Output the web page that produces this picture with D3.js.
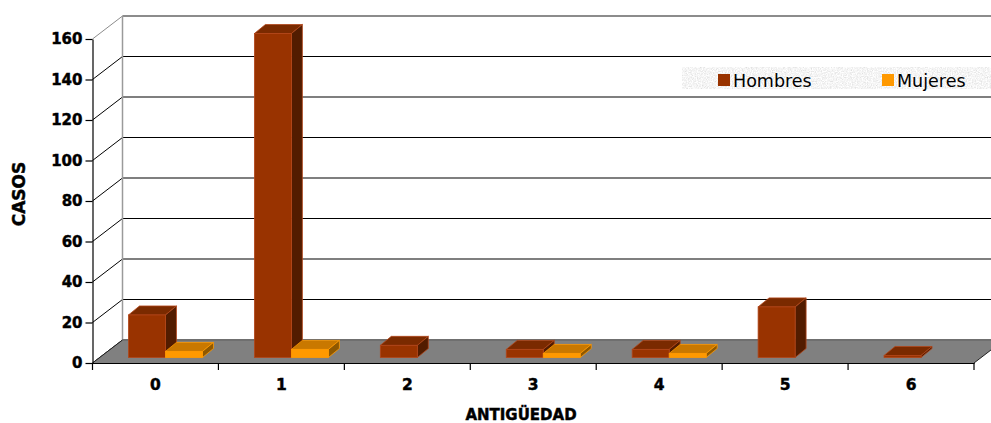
<!DOCTYPE html>
<html>
<head>
<meta charset="utf-8">
<script src="https://cdn.jsdelivr.net/npm/d3@7/dist/d3.min.js"></script>
<style>
  html, body { margin: 0; padding: 0; background: #ffffff; }
  svg { display: block; }
</style>
</head>
<body>
<div id="chart"></div>
<script>
// Casos por antigüedad, hombres y mujeres
const categories = ["0", "1", "2", "3", "4", "5", "6"];
const seriesNames = ["Hombres", "Mujeres"];
const hombres = [21, 160, 6, 4, 4, 25, 1];
const mujeres = [3, 4, 0, 2, 2, 0, 0];
const yTicks = [0, 20, 40, 60, 80, 100, 120, 140, 160];

const W = 991, H = 423;
const svg = d3.select("#chart").append("svg")
  .attr("width", W).attr("height", H);

// plot geometry (oblique 3D box)
const xLeft = 92.5, xRight = 974;
const wallDX = 30, wallDY = -23;           // depth of the box
const barDX = 11, barDY = -9;              // depth of each bar
const barShiftX = 10, barShiftY = -5.5;    // bars sit a little inside the floor
const barWidth = 37;

const x = d3.scaleBand().domain(categories).range([xLeft, xRight]).paddingInner(0).paddingOuter(0);
const xs = d3.scaleBand().domain(seriesNames).range([-barWidth, barWidth]);
const y = d3.scaleLinear().domain([0, 160]).range([363, 39]);

const colors = {
  Hombres: { front: "#993300", top: "#7a2a00", side: "#521c00", stroke: "#b2461a" },
  Mujeres: { front: "#ff9900", top: "#c97800", side: "#8f5800", stroke: "#ff9900" }
};

const boldFont = "'DejaVu Sans', sans-serif";
const heavy = sel => sel
  .attr("font-family", boldFont).attr("font-weight", "bold")
  .attr("fill", "#000").attr("stroke", "#000").attr("stroke-width", 0.45);

// texture used behind the legend
const defs = svg.append("defs");
const f = defs.append("filter").attr("id", "granite")
  .attr("x", 0).attr("y", 0).attr("width", 1).attr("height", 1);
f.append("feTurbulence").attr("type", "fractalNoise")
  .attr("baseFrequency", 0.8).attr("numOctaves", 2).attr("seed", 4).attr("result", "noise");
f.append("feColorMatrix").attr("in", "noise").attr("type", "matrix")
  .attr("values", "0.5 0 0 0 0.66  0.5 0 0 0 0.66  0.5 0 0 0 0.66  0 0 0 0 1")
  .attr("result", "gray");
f.append("feComposite").attr("in", "gray").attr("in2", "SourceGraphic").attr("operator", "in");

// back wall
const backLeft = xLeft + wallDX;
svg.append("rect")
  .attr("x", backLeft).attr("y", y(160) + wallDY)
  .attr("width", W - backLeft + 20).attr("height", y(0) - y(160))
  .attr("fill", "#ffffff");

// gridlines on the back wall and the side wall
yTicks.forEach(v => {
  const top = v === 160;
  const col = top ? "#8c8c8c" : "#000000";
  svg.append("line")
    .attr("x1", backLeft).attr("x2", W + 20)
    .attr("y1", y(v) + wallDY).attr("y2", y(v) + wallDY)
    .attr("stroke", col).attr("stroke-width", top ? 2 : 1.2);
  svg.append("line")
    .attr("x1", xLeft).attr("y1", y(v))
    .attr("x2", backLeft).attr("y2", y(v) + wallDY)
    .attr("stroke", col).attr("stroke-width", 1);
});
svg.append("line")
  .attr("x1", backLeft).attr("x2", backLeft)
  .attr("y1", y(160) + wallDY).attr("y2", y(0) + wallDY)
  .attr("stroke", "#9a9a9a").attr("stroke-width", 1.5);

// floor
svg.append("polygon")
  .attr("points", [
    [xLeft, y(0)], [xRight, y(0)],
    [xRight + wallDX, y(0) + wallDY], [xLeft + wallDX, y(0) + wallDY]
  ].map(p => p.join(",")).join(" "))
  .attr("fill", "#808080");
svg.append("line")
  .attr("x1", xLeft + wallDX).attr("x2", xRight + wallDX)
  .attr("y1", y(0) + wallDY).attr("y2", y(0) + wallDY)
  .attr("stroke", "#6a6a6a").attr("stroke-width", 1.5);
svg.append("line")
  .attr("x1", xRight).attr("y1", y(0))
  .attr("x2", xRight + wallDX).attr("y2", y(0) + wallDY)
  .attr("stroke", "#222222").attr("stroke-width", 1);
svg.append("line")
  .attr("x1", xLeft).attr("y1", y(0))
  .attr("x2", xLeft + wallDX).attr("y2", y(0) + wallDY)
  .attr("stroke", "#222222").attr("stroke-width", 1);

// bars
const data = [];
categories.forEach((c, i) => {
  data.push({ cat: c, series: "Hombres", value: hombres[i] });
  data.push({ cat: c, series: "Mujeres", value: mujeres[i] });
});

const bars = svg.append("g").selectAll("g")
  .data(data.filter(d => d.value > 0))
  .join("g");

bars.each(function (d) {
  const g = d3.select(this);
  const col = colors[d.series];
  const fx = x(d.cat) + x.bandwidth() / 2 + xs(d.series) + barShiftX;
  const w = xs.bandwidth();
  const yt = y(d.value) + barShiftY;
  const yb = y(0) + barShiftY;
  const pts = a => a.map(p => p.join(",")).join(" ");
  g.append("polygon")
    .attr("points", pts([[fx, yt], [fx + w, yt], [fx + w + barDX, yt + barDY], [fx + barDX, yt + barDY]]))
    .attr("fill", col.top).attr("stroke", col.stroke).attr("stroke-width", 0.8);
  g.append("polygon")
    .attr("points", pts([[fx + w, yt], [fx + w + barDX, yt + barDY], [fx + w + barDX, yb + barDY], [fx + w, yb]]))
    .attr("fill", col.side).attr("stroke", col.stroke).attr("stroke-width", 0.8);
  g.append("rect")
    .attr("x", fx).attr("y", yt).attr("width", w).attr("height", yb - yt)
    .attr("fill", col.front).attr("stroke", col.stroke).attr("stroke-width", 0.8);
});

// value axis
const yAxis = svg.append("g")
  .attr("transform", `translate(${xLeft},0)`)
  .call(d3.axisLeft(y).tickValues(yTicks).tickSize(7).tickSizeOuter(0).tickPadding(3));
yAxis.select(".domain").attr("stroke", "#000").attr("stroke-width", 1.2);
yAxis.selectAll(".tick line").attr("stroke", "#000").attr("stroke-width", 1.2);
yAxis.selectAll(".tick text").call(heavy).attr("font-size", 15);

// category axis: boundary ticks and centred labels
const xAxis = svg.append("g")
  .attr("transform", `translate(0,${y(0)})`)
  .call(d3.axisBottom(x).tickSize(0).tickPadding(16).tickSizeOuter(0));
xAxis.select(".domain").attr("stroke", "#000").attr("stroke-width", 1.2);
xAxis.selectAll(".tick text").call(heavy).attr("font-size", 15.5);
const bounds = categories.map(c => x(c)).concat([xRight]);
xAxis.selectAll(".bound").data(bounds).join("line")
  .attr("class", "bound")
  .attr("x1", d => d).attr("x2", d => d).attr("y1", 0).attr("y2", 7)
  .attr("stroke", "#000").attr("stroke-width", 1.2);

// axis titles
svg.append("text")
  .attr("transform", "translate(25,194) rotate(-90)")
  .attr("text-anchor", "middle")
  .call(heavy).attr("font-size", 17)
  .text("CASOS");
svg.append("text")
  .attr("x", 521).attr("y", 420)
  .attr("text-anchor", "middle")
  .call(heavy).attr("font-size", 15)
  .text("ANTIGÜEDAD");

// legend
const legend = svg.append("g");
legend.append("rect")
  .attr("x", 682).attr("y", 67).attr("width", 309).attr("height", 22)
  .attr("fill", "#e6e6e6").attr("filter", "url(#granite)");
const legendX = [718, 882];
seriesNames.forEach((s, i) => {
  legend.append("rect")
    .attr("x", legendX[i]).attr("y", 74).attr("width", 12).attr("height", 12)
    .attr("fill", colors[s].front);
  legend.append("text")
    .attr("x", legendX[i] + 15).attr("y", 86.5)
    .attr("font-family", "'DejaVu Sans', sans-serif")
    .attr("font-size", 17.5).attr("fill", "#000")
    .text(s);
});
</script>
</body>
</html>
